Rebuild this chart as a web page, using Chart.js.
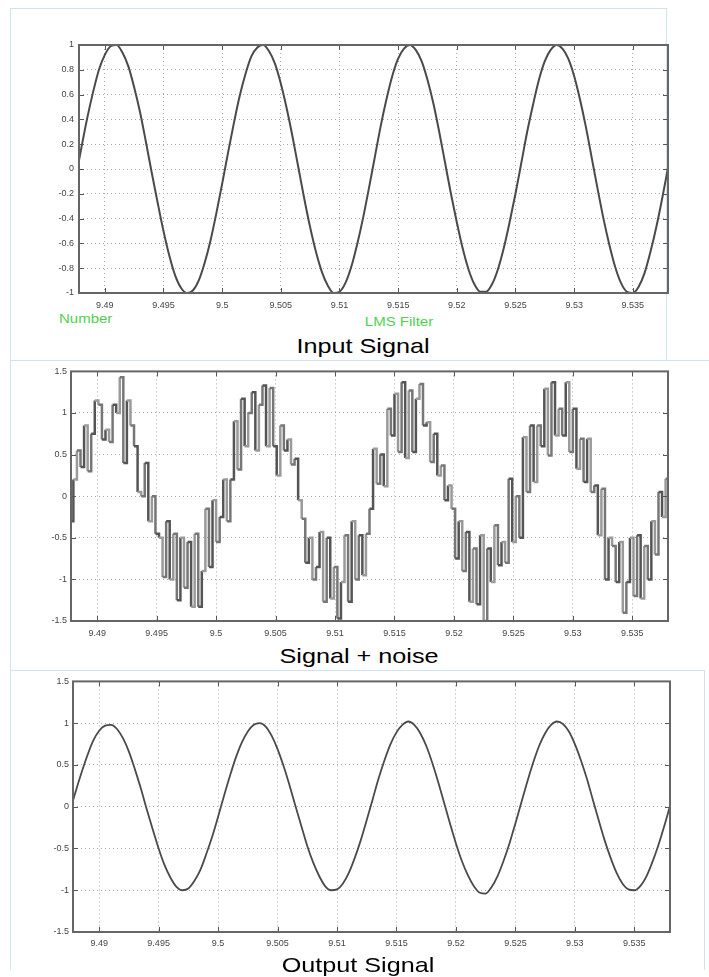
<!DOCTYPE html>
<html><head><meta charset="utf-8">
<script src="https://cdn.jsdelivr.net/npm/chart.js@4/dist/chart.umd.min.js"></script>
<style>
html,body{margin:0;padding:0;background:#fff;width:709px;height:977px;overflow:hidden;position:relative;font-family:"Liberation Sans",Arial,sans-serif}
canvas{position:absolute;left:0}
.frame{position:absolute;box-sizing:border-box;border:0 solid #d3e2f1}
.title{position:absolute;width:300px;text-align:center;font-size:21px;line-height:21px;color:#000;transform:scaleX(1.2);transform-origin:50% 0;white-space:nowrap}
.lbl{position:absolute;font-size:12px;line-height:12px;color:#4fd14f;white-space:nowrap;transform:scaleX(1.25)}
</style></head><body>
<div class="frame" style="left:10px;top:8px;width:657px;height:353px;border-width:1px"></div>
<div class="frame" style="left:10px;top:360px;width:699px;height:312px;border-top-width:1px;border-left-width:1px"></div>
<div class="frame" style="left:10px;top:670px;width:695px;height:300px;border-top-width:1px;border-left-width:1px;border-right-width:1px"></div>

<canvas id="c1" width="709" height="310" style="top:0px"></canvas>
<canvas id="c2" width="709" height="282" style="top:362px"></canvas>
<canvas id="c3" width="709" height="282" style="top:672px"></canvas>

<div class="lbl" style="left:59px;top:313px;transform-origin:0 0">Number</div>
<div class="lbl" style="left:349px;top:316px;width:100px;text-align:center;transform-origin:50% 0">LMS Filter</div>
<div class="title" style="left:213px;top:335px">Input Signal</div>
<div class="title" style="left:209px;top:645px">Signal + noise</div>
<div class="title" style="left:208px;top:954px">Output Signal</div>

<script>
// ---- data ----
const xTickValues = [9.49, 9.495, 9.5, 9.505, 9.51, 9.515, 9.52, 9.525, 9.53, 9.535];
const xTickLabels = ['9.49', '9.495', '9.5', '9.505', '9.51', '9.515', '9.52', '9.525', '9.53', '9.535'];
const yTicksInput = [1, 0.8, 0.6, 0.4, 0.2, 0, -0.2, -0.4, -0.6, -0.8, -1];
const yLabelsInput = ['1', '0.8', '0.6', '0.4', '0.2', '0', '-0.2', '-0.4', '-0.6', '-0.8', '-1'];
const yTicksWide = [1.5, 1, 0.5, 0, -0.5, -1, -1.5];
const yLabelsWide = ['1.5', '1', '0.5', '0', '-0.5', '-1', '-1.5'];
const X_MIN = 9.4878, X_MAX = 9.5380;

// sample times (start, spacing)
const cleanStart = 9.4875, cleanStep = 0.0005;
const noisyStart = 9.4877, noisyStep = 0.0003;

const inputSignal = [
  -0.08, 0.17, 0.41, 0.62, 0.80, 0.92, 0.99, 1.00, 0.94, 0.83,
  0.66, 0.46, 0.22, -0.03, -0.27, -0.50, -0.70, -0.86, -0.96, -1.00,
  -0.98, -0.90, -0.76, -0.58, -0.36, -0.12, 0.13, 0.37, 0.59, 0.77,
  0.91, 0.98, 1.00, 0.95, 0.85, 0.69, 0.49, 0.26, 0.01, -0.24,
  -0.47, -0.67, -0.83, -0.94, -1.00, -0.99, -0.92, -0.79, -0.61, -0.40,
  -0.16, 0.09, 0.34, 0.56, 0.75, 0.89, 0.97, 1.00, 0.96, 0.87,
  0.72, 0.53, 0.30, 0.05, -0.20, -0.43, -0.64, -0.81, -0.93, -0.99,
  -0.99, -0.93, -0.81, -0.64, -0.43, -0.20, 0.05, 0.30, 0.52, 0.72,
  0.87, 0.96, 1.00, 0.97, 0.89, 0.75, 0.56, 0.34, 0.09, -0.16,
  -0.40, -0.61, -0.79, -0.92, -0.99, -1.00, -0.95, -0.84, -0.67, -0.47,
  -0.24, 0.01
];

const noisySignal = [
  -0.30, 0.20, 0.55, 0.35, 0.85, 0.30, 0.75, 1.15, 1.10, 0.68,
  0.80, 0.65, 1.10, 1.00, 1.43, 0.40, 1.15, 0.85, 0.60, 0.05,
  0.00, 0.40, -0.30, 0.00, -0.45, -0.50, -0.97, -0.30, -1.00, -0.45,
  -1.25, -0.50, -1.10, -0.55, -1.33, -0.45, -1.33, -0.90, -0.15, -0.85,
  -0.05, -0.55, -0.25, 0.20, -0.30, 0.20, 0.90, 0.32, 1.17, 0.60,
  1.00, 1.25, 0.55, 1.10, 1.33, 0.60, 1.30, 0.60, 0.25, 0.85,
  0.55, 0.68, 0.38, 0.45, -0.05, -0.27, -0.80, -0.50, -1.00, -0.85,
  -0.43, -1.27, -0.50, -1.23, -0.85, -1.47, -1.03, -0.47, -1.27, -0.30,
  -1.00, -0.47, -0.95, -0.45, -0.15, 0.57, 0.15, 0.50, 0.12, 1.05,
  0.73, 1.23, 0.53, 1.37, 0.46, 1.27, 0.53, 1.17, 1.35, 0.85,
  0.89, 0.41, 0.75, 0.25, 0.37, -0.05, 0.13, -0.15, -0.75, -0.30,
  -0.90, -0.43, -1.27, -0.63, -1.30, -0.47, -1.50, -0.63, -1.03, -0.35,
  -0.83, -0.55, -0.80, 0.21, -0.55, 0.00, -0.50, 0.71, 0.05, 0.85,
  0.17, 0.85, 0.60, 1.29, 0.49, 1.37, 0.73, 1.05, 0.73, 1.37,
  0.53, 1.05, 0.33, 0.69, 0.17, 0.69, 0.05, 0.13, -0.47, 0.09,
  -1.00, -0.50, -0.60, -1.03, -0.55, -1.40, -1.03, -0.50, -1.20, -0.47,
  -1.23, -0.60, -1.00, -0.30, -0.70, 0.05, -0.25, 0.21, -0.10
];

const outputSignal = [
  -0.08, 0.17, 0.40, 0.61, 0.79, 0.91, 0.97, 0.98, 0.93, 0.82,
  0.66, 0.45, 0.22, -0.03, -0.27, -0.50, -0.70, -0.85, -0.96, -1.00,
  -0.98, -0.89, -0.76, -0.57, -0.36, -0.12, 0.13, 0.37, 0.59, 0.77,
  0.90, 0.98, 1.00, 0.96, 0.85, 0.69, 0.49, 0.26, 0.01, -0.23,
  -0.47, -0.67, -0.83, -0.95, -1.00, -0.99, -0.92, -0.79, -0.61, -0.40,
  -0.16, 0.09, 0.34, 0.56, 0.75, 0.89, 0.98, 1.02, 0.98, 0.88,
  0.73, 0.53, 0.30, 0.05, -0.20, -0.44, -0.65, -0.82, -0.95, -1.03,
  -1.04, -0.96, -0.83, -0.65, -0.44, -0.20, 0.05, 0.30, 0.53, 0.73,
  0.88, 0.98, 1.02, 0.99, 0.90, 0.75, 0.56, 0.34, 0.09, -0.16,
  -0.40, -0.61, -0.79, -0.92, -0.99, -1.00, -0.95, -0.84, -0.67, -0.47,
  -0.24, 0.01
];

// ---- helpers ----
const FONT = '"Liberation Sans", Arial, sans-serif';
function toPoints(values, start, step) {
  return values.map((v, i) => ({ x: start + i * step, y: v }));
}

const boxPlugin = {
  id: 'matlabBox',
  afterDraw(chart) {
    const { ctx, chartArea: a, scales } = chart;
    ctx.save();
    ctx.strokeStyle = '#555';
    ctx.lineWidth = 1;
    ctx.beginPath();
    scales.x.ticks.forEach(t => {
      const px = Math.round(scales.x.getPixelForValue(t.value)) + 0.5;
      ctx.moveTo(px, a.bottom); ctx.lineTo(px, a.bottom - 5);
      ctx.moveTo(px, a.top); ctx.lineTo(px, a.top + 5);
    });
    scales.y.ticks.forEach(t => {
      const py = Math.round(scales.y.getPixelForValue(t.value)) + 0.5;
      ctx.moveTo(a.left, py); ctx.lineTo(a.left + 5, py);
      ctx.moveTo(a.right, py); ctx.lineTo(a.right - 5, py);
    });
    ctx.stroke();
    ctx.strokeStyle = '#666';
    ctx.lineWidth = 2;
    ctx.strokeRect(a.left, a.top, a.right - a.left, a.bottom - a.top);
    ctx.restore();
  }
};

function makeChart(id, cfg) {
  return new Chart(document.getElementById(id), {
    type: 'line',
    data: { datasets: [cfg.dataset] },
    options: {
      responsive: false,
      animation: false,
      events: [],
      layout: { padding: { top: cfg.padTop, right: cfg.padRight, left: 0, bottom: 0 } },
      plugins: { legend: { display: false }, tooltip: { enabled: false }, title: { display: false } },
      scales: {
        x: {
          type: 'linear', min: X_MIN, max: X_MAX,
          afterBuildTicks: s => { s.ticks = xTickValues.map(v => ({ value: v })); },
          afterFit: s => { s.height = cfg.xAxisH; },
          ticks: {
            autoSkip: false, maxRotation: 0, minRotation: 0, padding: cfg.xPad,
            font: { size: 9, family: FONT }, color: '#444',
            callback: v => xTickLabels[xTickValues.indexOf(v)]
          },
          grid: { color: '#a8a8a8', lineWidth: 1, drawTicks: false },
          border: { display: false, dash: [1, 3] }
        },
        y: {
          type: 'linear', min: cfg.yMin, max: cfg.yMax,
          afterBuildTicks: s => { s.ticks = cfg.yTicks.map(v => ({ value: v })); },
          afterFit: s => { s.width = cfg.yAxisW; },
          ticks: {
            padding: cfg.yPad,
            font: { size: 9, family: FONT }, color: '#444',
            callback: v => cfg.yLabels[cfg.yTicks.indexOf(v)]
          },
          grid: { color: '#a8a8a8', lineWidth: 1, drawTicks: false },
          border: { display: false, dash: [1, 3] }
        }
      }
    },
    plugins: [boxPlugin]
  });
}

makeChart('c1', {
  padTop: 45, padRight: 41, yAxisW: 79, xAxisH: 17, xPad: 7, yPad: 5,
  yMin: -1, yMax: 1, yTicks: yTicksInput, yLabels: yLabelsInput,
  dataset: {
    data: toPoints(inputSignal, cleanStart, cleanStep),
    borderColor: '#4a4a4a', borderWidth: 2, pointRadius: 0,
    cubicInterpolationMode: 'monotone', fill: false
  }
});

makeChart('c2', {
  padTop: 9, padRight: 41, yAxisW: 71, xAxisH: 23, xPad: 7, yPad: 4,
  yMin: -1.5, yMax: 1.5, yTicks: yTicksWide, yLabels: yLabelsWide,
  dataset: {
    data: toPoints(noisySignal, noisyStart, noisyStep),
    stepped: 'before', borderColor: '#666', borderWidth: 2.5, pointRadius: 0, fill: false,
    segment: { borderColor: c => (c.p0DataIndex % 3 === 0 ? '#555' : (c.p0DataIndex % 3 === 1 ? '#9a9a9a' : '#777')) }
  }
});

makeChart('c3', {
  padTop: 8, padRight: 39, yAxisW: 73, xAxisH: 22, xPad: 6, yPad: 4,
  yMin: -1.5, yMax: 1.5, yTicks: yTicksWide, yLabels: yLabelsWide,
  dataset: {
    data: toPoints(outputSignal, cleanStart, cleanStep),
    borderColor: '#4a4a4a', borderWidth: 1.8, pointRadius: 0,
    cubicInterpolationMode: 'monotone', fill: false
  }
});
</script>
</body></html>
